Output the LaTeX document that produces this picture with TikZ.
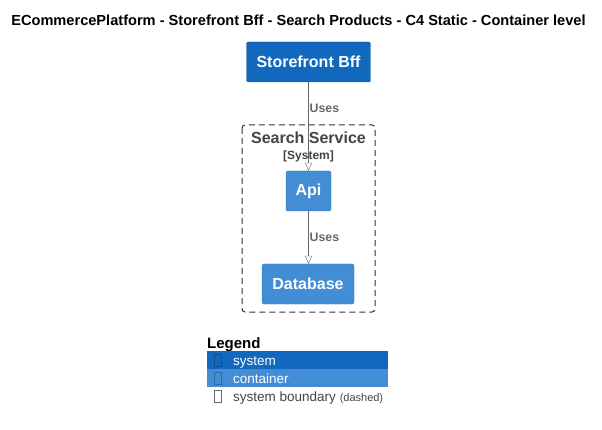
\documentclass[tikz,border=0pt]{standalone}
\usepackage{fontspec}
\setmainfont{Liberation Sans}
\usetikzlibrary{positioning,arrows.meta}
\definecolor{SystemBlue}{HTML}{1168BD}
\definecolor{ContainerBlue}{HTML}{438DD5}
\definecolor{LabelGrey}{HTML}{666666}
\definecolor{BoundaryGrey}{HTML}{444444}
\tikzstyle{SystemBox} = [fill=SystemBlue, draw=SystemBlue!80!black,
                         rectangle, rounded corners=2pt,
                         text=white, font=\fontsize{16}{18}\selectfont\bfseries,
                         minimum height=40pt, inner xsep=10pt]
\tikzstyle{ContainerBox} = [fill=ContainerBlue, draw=ContainerBlue!80!black,
                            rectangle, rounded corners=2pt,
                            text=white, font=\fontsize{16}{18}\selectfont\bfseries,
                            minimum height=40pt, inner xsep=10pt]
\tikzstyle{Uses} = [draw=LabelGrey, -{Triangle[open, length=8pt, width=7pt]}]
\tikzstyle{UsesLabel} = [text=LabelGrey, font=\fontsize{12.3}{14}\selectfont\bfseries,
                         right, inner sep=1pt]
\tikzstyle{LegendRow} = [rectangle, minimum width=181pt, minimum height=17.5pt,
                         anchor=north west, inner sep=0pt]
\tikzstyle{LegendText} = [anchor=base west, inner sep=0pt, font=\fontsize{13.5}{15}\selectfont]

\begin{document}
\begin{tikzpicture}[x=1pt, y=-1pt]
	\useasboundingbox (0, 0) rectangle (602, 430);

	% Title
	\node(title) at (298.5, 20) {\fontsize{14.6}{16}\selectfont\bfseries ECommercePlatform - Storefront Bff - Search Products - C4 Static - Container level};

	% Boundary
	\draw [dash pattern=on 6pt off 4pt, draw=black!80, line width=1pt, rounded corners=3pt] (242, 125) rectangle (375, 312);
	\node(boundary) at (308.5, 138) [text=BoundaryGrey, font=\fontsize{16}{18}\selectfont\bfseries]{Search Service};
	\node(boundarytype) at (308.5, 156) [text=BoundaryGrey, font=\fontsize{12}{14}\selectfont\bfseries]{[System]};

	% Element nodes
	\node(storefront) at (308.5, 62) [SystemBox, minimum width=123pt]{Storefront Bff};
	\node(api) at (308.5, 191) [ContainerBox, minimum width=45pt, inner xsep=4pt]{Api};
	\node(database) at (308, 284) [ContainerBox, minimum width=92pt, inner xsep=6pt]{Database};

	% Lines
	\draw [Uses] (storefront.south -| api.north) -- (api.north) node[UsesLabel, pos=0.3]{Uses};
	\draw [Uses] (api.south) -- (api.south |- database.north) node[UsesLabel, pos=0.5]{Uses};

	% Legend
	\node(legend) at (207, 348) [anchor=base west, inner sep=0pt, font=\fontsize{15}{17}\selectfont\bfseries]{Legend};
	\node(legsystem) at (207, 351) [LegendRow, fill=SystemBlue]{};
	\node(legcontainer) at (207, 369) [LegendRow, fill=ContainerBlue]{};
	\node(iconsystem) at (218, 360) [draw=SystemBlue!75!black, rectangle, minimum width=7pt, minimum height=12pt, inner sep=0pt]{};
	\node(iconcontainer) at (218, 378) [draw=ContainerBlue!75!black, rectangle, minimum width=7pt, minimum height=12pt, inner sep=0pt]{};
	\node(iconboundary) at (218, 396) [draw=BoundaryGrey!80, rectangle, minimum width=7pt, minimum height=12pt, inner sep=0pt]{};
	\node(txtsystem) at (233, 365) [LegendText, text=white]{system};
	\node(txtcontainer) at (233, 383) [LegendText, text=white]{container};
	\node(txtboundary) at (233, 401) [LegendText, text=BoundaryGrey]{system boundary {\fontsize{11}{12}\selectfont (dashed)}};

\end{tikzpicture}
\end{document}
